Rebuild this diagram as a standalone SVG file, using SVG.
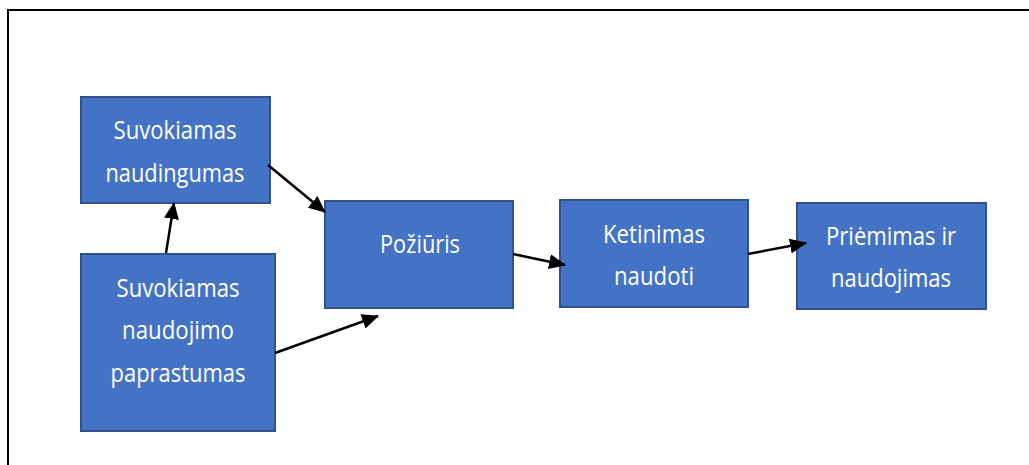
<svg xmlns="http://www.w3.org/2000/svg" width="1029" height="465" viewBox="0 0 1029 465">
  <style>
    .box { fill: #4472C4; stroke: #2F528F; stroke-width: 2; }
    .lbl { fill: #FFFFFF; font-family: "Open Sans", "Noto Sans", sans-serif; font-size: 26px; text-anchor: middle; }
    .edge { stroke: #000000; stroke-width: 2.5; fill: none; marker-end: url(#arrow); }
  </style>
  <defs>
    <marker id="arrow" markerUnits="userSpaceOnUse" markerWidth="17" markerHeight="15" refX="16" refY="7.5" orient="auto">
      <path d="M0,0 L17,7.5 L0,15 Z" fill="#000000"/>
    </marker>
  </defs>
  <rect x="0" y="0" width="1029" height="465" fill="#FFFFFF"/>
  <!-- outer frame -->
  <path d="M8,465 V10 H1029" fill="none" stroke="#000000" stroke-width="2"/>

  <g id="suvokiamas-naudingumas">
    <rect class="box" x="81" y="97" width="189" height="106"/>
    <text class="lbl" x="175" y="139" textLength="123" lengthAdjust="spacingAndGlyphs">Suvokiamas</text>
    <text class="lbl" x="175" y="182" textLength="139" lengthAdjust="spacingAndGlyphs">naudingumas</text>
  </g>
  <g id="suvokiamas-paprastumas">
    <rect class="box" x="81" y="254" width="194" height="177"/>
    <text class="lbl" x="178" y="297" textLength="123" lengthAdjust="spacingAndGlyphs">Suvokiamas</text>
    <text class="lbl" x="178" y="339" textLength="112" lengthAdjust="spacingAndGlyphs">naudojimo</text>
    <text class="lbl" x="178" y="382" textLength="135" lengthAdjust="spacingAndGlyphs">paprastumas</text>
  </g>
  <g id="poziuris">
    <rect class="box" x="325" y="201" width="188" height="107"/>
    <text class="lbl" x="420" y="253" textLength="80" lengthAdjust="spacingAndGlyphs">Požiūris</text>
  </g>
  <g id="ketinimas-naudoti">
    <rect class="box" x="560" y="200" width="188" height="107"/>
    <text class="lbl" x="654" y="243" textLength="102" lengthAdjust="spacingAndGlyphs">Ketinimas</text>
    <text class="lbl" x="654" y="285" textLength="80" lengthAdjust="spacingAndGlyphs">naudoti</text>
  </g>
  <g id="priemimas-naudojimas">
    <rect class="box" x="797" y="203" width="189" height="106"/>
    <text class="lbl" x="891" y="245" textLength="130" lengthAdjust="spacingAndGlyphs">Priėmimas ir</text>
    <text class="lbl" x="891" y="287" textLength="120" lengthAdjust="spacingAndGlyphs">naudojimas</text>
  </g>

  <g id="connectors">
    <line class="edge" x1="166" y1="253" x2="174" y2="203"/>
    <line class="edge" x1="268" y1="165" x2="325" y2="212"/>
    <line class="edge" x1="275" y1="353" x2="378" y2="316"/>
    <line class="edge" x1="513" y1="254" x2="565" y2="265"/>
    <line class="edge" x1="748" y1="254" x2="806" y2="243"/>
  </g>
</svg>
